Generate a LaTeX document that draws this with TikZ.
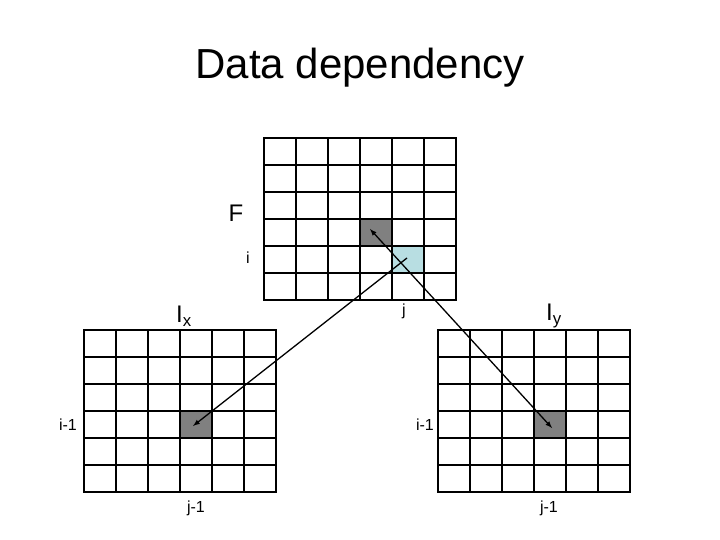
\documentclass[tikz,border=0pt]{standalone}
\usepackage{fontspec}
\setmainfont{Liberation Sans}
\begin{document}
\begin{tikzpicture}[x=1pt,y=-1pt,
  lbl/.style={inner sep=0pt,font=\fontsize{16}{18}\selectfont},
  gridline/.style={line width=1.8pt},
  con/.style={line width=1.3pt,-latex}]
\useasboundingbox (0,0) rectangle (720,540);
\node[inner sep=0pt,font=\fontsize{42}{48}\selectfont] (t) at (360,68) {Data dependency};
\fill[gray] (360,219) rectangle (392,246);
\fill[fill={rgb,255:red,184;green,222;blue,226}] (392,246) rectangle (424,273);
\fill[gray] (180,411) rectangle (212,438);
\fill[gray] (534,411) rectangle (566,438);
\foreach \ox/\oy in {264/138,84/330,438/330}{
  \foreach \k in {0,...,6}{
    \draw[gridline] (\ox+32*\k,\oy) -- (\ox+32*\k,\oy+162);
    \draw[gridline] (\ox,\oy+27*\k) -- (\ox+192,\oy+27*\k);
  }
  \draw[gridline] (\ox,\oy) rectangle (\ox+192,\oy+162);
}
\coordinate (b) at (407,258);
\coordinate (g) at (370,229);
\coordinate (l) at (193,426);
\coordinate (r) at (552,428);
\draw[con] (b) -- (l);
\draw[con,latex-latex] (g) -- (r);
\node[inner sep=0pt,font=\fontsize{24}{28}\selectfont] (F) at (236,213) {F};
\node[lbl] (i) at (248,258) {i};
\node[inner sep=0pt,font=\fontsize{24}{28}\selectfont] (Ix) at (184,316) {I\textsubscript{x}};
\node[inner sep=0pt,font=\fontsize{24}{28}\selectfont] (Iy) at (554,316) {I\textsubscript{y}};
\node[lbl] (j) at (404,311) {j};
\node[lbl] (i1) at (68,425) {i-1};
\node[lbl] (i2) at (425,425) {i-1};
\node[lbl] (j1) at (196,508) {j-1};
\node[lbl] (j2) at (549,508) {j-1};
\end{tikzpicture}
\end{document}
